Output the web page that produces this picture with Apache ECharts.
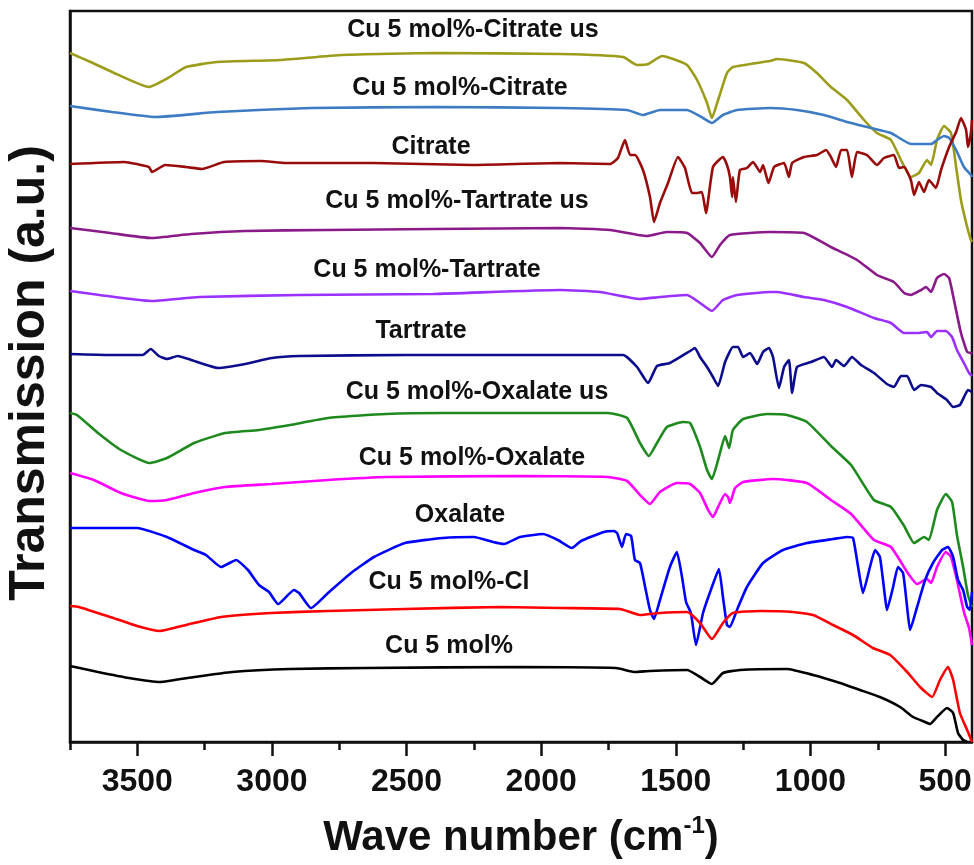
<!DOCTYPE html>
<html>
<head>
<meta charset="utf-8">
<script src="https://cdn.jsdelivr.net/npm/echarts@6/dist/echarts.min.js"></script>
<style>
html,body{margin:0;padding:0;background:#fff;}
#chart{width:974px;height:865px;}
</style>
</head>
<body>
<div id="chart"></div>
<script>
// Wavenumber (cm-1) and transmission (a.u., stacked offsets)
const citrateUs = [[3750,689],[3665,679],[3594,670],[3457,655],[3386,664],[3319,675],[3204,680],[2970,682],[2740,687],[2394,689],[1930,688],[1696,685],[1644,677],[1603,678],[1551,686],[1510,683],[1458,677],[1421,662],[1384,639],[1366,624],[1343,642],[1310,669],[1288,675],[1150,681],[1124,683],[1024,679],[976,669],[924,655],[864,642],[801,622],[753,609],[701,602],[664,582],[627,565],[597,569],[567,582],[552,577],[530,602],[504,616],[478,609],[459,575],[441,542],[418,515],[404,502],[400,500]];
const cuCitrate = [[3750,636],[3594,630],[3434,625],[3204,630],[2855,634],[2394,635],[1930,634],[1681,632],[1622,627],[1559,632],[1458,632],[1399,624],[1366,619],[1325,627],[1273,632],[1150,634],[1050,632],[950,627],[864,620],[775,614],[701,609],[627,598],[552,598],[530,602],[504,606],[485,604],[459,592],[430,575],[404,567],[400,565]];
const citrate = [[3750,578],[3549,580],[3457,575],[3445,570],[3397,577],[3319,575],[3260,573],[3178,580],[3041,581],[2948,579],[2625,579],[2257,577],[1934,579],[1744,578],[1715,584],[1689,602],[1670,587],[1651,587],[1622,572],[1596,545],[1581,520],[1559,539],[1529,559],[1492,585],[1466,574],[1440,549],[1418,549],[1403,550],[1388,529],[1362,575],[1325,585],[1310,577],[1299,565],[1291,545],[1288,565],[1277,540],[1262,572],[1236,574],[1213,580],[1187,570],[1176,577],[1156,559],[1135,575],[1098,579],[1080,565],[1068,579],[1024,585],[976,587],[942,592],[924,585],[905,575],[886,592],[864,592],[846,565],[827,590],[790,587],[753,577],[727,584],[690,587],[671,574],[652,575],[627,562],[615,547],[597,560],[578,550],[560,562],[534,554],[515,572],[485,595],[459,610],[441,624],[422,612],[415,595],[404,609],[400,622]];
const tartrateUs = [[3750,514],[3600,509],[3450,504],[3300,508],[3100,511],[2800,512],[2400,513],[1930,514],[1744,512],[1607,506],[1533,510],[1458,509],[1410,499],[1366,485],[1336,497],[1299,507],[1150,510],[1024,509],[924,495],[827,482],[753,467],[690,460],[652,449],[627,447],[589,452],[571,455],[552,450],[530,464],[504,468],[485,464],[467,442],[441,409],[418,390],[404,389],[400,388]];
const cuTartrate = [[3750,451],[3640,447],[3450,441],[3270,445],[2900,447],[2400,448],[1930,452],[1782,450],[1633,443],[1559,445],[1458,447],[1410,439],[1366,431],[1325,442],[1273,447],[1150,450],[1124,450],[1024,445],[950,442],[864,435],[764,424],[701,419],[652,409],[604,409],[567,410],[552,405],[530,411],[497,411],[474,405],[456,392],[430,379],[411,369],[404,367],[400,366]];
const tartrate = [[3750,388],[3600,387],[3480,387],[3450,393],[3420,386],[3390,383],[3350,386],[3300,382],[3200,374],[3100,378],[3000,384],[2900,386],[2500,387],[1930,387],[1696,387],[1644,375],[1603,359],[1570,376],[1522,379],[1447,391],[1429,394],[1410,385],[1384,375],[1362,365],[1343,356],[1317,380],[1288,395],[1269,395],[1250,385],[1224,389],[1198,378],[1176,390],[1154,394],[1139,385],[1117,354],[1098,375],[1080,382],[1068,349],[1050,375],[998,380],[950,385],[920,375],[905,382],[875,376],[846,385],[812,377],[764,369],[716,358],[690,355],[664,366],[641,366],[615,352],[589,357],[552,355],[530,349],[493,342],[470,335],[445,337],[426,347],[415,352],[400,350]];
const oxalateUs = [[3750,329],[3724,327],[3646,309],[3561,292],[3455,279],[3390,284],[3289,299],[3174,309],[3048,312],[2933,317],[2792,324],[2576,328],[2365,329],[1752,329],[1681,324],[1633,299],[1600,286],[1570,299],[1533,315],[1473,320],[1447,319],[1410,295],[1384,272],[1366,263],[1343,282],[1317,306],[1302,294],[1288,312],[1250,323],[1161,328],[1087,327],[1013,320],[924,296],[849,277],[764,242],[701,235],[652,216],[615,199],[578,205],[560,202],[530,232],[497,248],[474,240],[456,207],[433,175],[415,147],[400,135]];
const cuOxalate = [[3750,269],[3661,262],[3561,249],[3455,241],[3390,242],[3289,249],[3174,255],[3003,258],[2792,262],[2576,265],[2079,266],[1752,265],[1681,261],[1633,247],[1596,238],[1559,250],[1496,259],[1447,258],[1410,249],[1380,232],[1362,225],[1343,235],[1317,248],[1306,245],[1299,239],[1280,254],[1250,260],[1139,263],[1013,259],[924,242],[849,228],[764,202],[701,195],[641,170],[604,158],[567,163],[552,159],[530,175],[497,190],[478,185],[456,162],[430,130],[411,114],[400,97]];
const oxalate = [[3750,214],[3501,214],[3390,205],[3289,192],[3245,187],[3189,175],[3133,182],[3089,172],[3048,157],[3011,150],[2977,138],[2918,152],[2899,149],[2855,134],[2792,149],[2706,169],[2621,185],[2506,199],[2365,204],[2250,205],[2179,200],[2138,198],[2079,205],[1993,208],[1938,202],[1886,194],[1852,201],[1767,210],[1730,211],[1718,209],[1700,195],[1685,208],[1666,206],[1652,182],[1633,179],[1614,155],[1596,132],[1581,123],[1559,142],[1522,175],[1496,190],[1477,165],[1462,140],[1444,129],[1425,97],[1399,129],[1366,155],[1340,173],[1325,145],[1310,117],[1299,115],[1273,132],[1236,155],[1176,179],[1102,192],[1013,199],[916,203],[864,205],[842,204],[823,175],[805,149],[779,175],[760,192],[742,185],[723,145],[716,132],[693,155],[675,175],[656,169],[641,135],[630,112],[604,135],[574,162],[545,179],[511,192],[489,195],[470,185],[452,162],[433,152],[418,135],[408,132],[400,150]];
const cuCl = [[3750,136],[3717,135],[3601,125],[3501,116],[3416,111],[3319,117],[3189,125],[3003,129],[2792,131],[2506,133],[2149,135],[1930,134],[1707,133],[1633,127],[1559,129],[1458,130],[1410,119],[1366,103],[1325,119],[1288,129],[1187,131],[1065,130],[990,127],[916,117],[842,107],[768,94],[704,87],[641,70],[593,55],[548,45],[519,62],[489,75],[470,62],[445,29],[418,12],[400,0]];
const cu5 = [[3750,76],[3646,70],[3531,64],[3416,60],[3289,65],[3148,70],[2933,73],[2651,74],[2079,75],[1722,74],[1652,70],[1596,71],[1458,72],[1410,65],[1366,58],[1325,69],[1262,72],[1087,73],[990,67],[890,59],[816,52],[742,45],[667,35],[619,25],[574,20],[556,18],[530,25],[493,34],[470,29],[452,9],[433,2],[418,0]];

const seriesNames = ['Cu 5 mol%-Citrate us','Cu 5 mol%-Citrate','Citrate','Cu 5 mol%-Tartrate us','Cu 5 mol%-Tartrate','Tartrate','Cu 5 mol%-Oxalate us','Cu 5 mol%-Oxalate','Oxalate','Cu 5 mol%-Cl','Cu 5 mol%'];
const seriesData = [citrateUs, cuCitrate, citrate, tartrateUs, cuTartrate, tartrate, oxalateUs, cuOxalate, oxalate, cuCl, cu5];
const majorTicks = [3500,3000,2500,2000,1500,1000,500];
const minorTicks = [3750,3500,3250,3000,2750,2500,2250,2000,1750,1500,1250,1000,750,500];

const colors = ['#9c9c1a','#3d7cc2','#990c0c','#8a1a8a','#9b30ff','#0c0c8c','#1e8a1e','#ff00ff','#0000ff','#ff0000','#000000'];
// label centres (px)
const labelPos = [[473,30],[460,88],[431,147],[457,201],[427,270],[421,331],[477,392],[472,458],[460,515],[449,582],[449,646]];

const FONT = 'Arial, "Liberation Sans", Helvetica, sans-serif';
const chart = echarts.init(document.getElementById('chart'), null, {renderer:'canvas'});

const series = seriesData.map((d,i)=>({
  name: seriesNames[i], type:'line', data:d, xAxisIndex:0, yAxisIndex:0,
  showSymbol:false, symbol:'none', smooth:0.15,
  lineStyle:{color:colors[i], width:2.6}, itemStyle:{color:colors[i]},
  z: 3, animation:false
}));

const graphic = seriesNames.map((n,i)=>({
  type:'text', x:labelPos[i][0], y:labelPos[i][1], z:10,
  style:{text:n, fill:'#111', font:'bold 25px ' + FONT, align:'center', verticalAlign:'middle'}
}));
graphic.push({
  type:'text', x:30, y:373, rotation:Math.PI/2, z:10,
  style:{text:'Transmission (a.u.)', fill:'#111', font:'bold 50px ' + FONT, align:'center', verticalAlign:'middle'}
});
graphic.push({
  type:'text', x:521, y:838, z:10,
  style:{text:'{a|Wave number (cm}{s|-1}{a|)}', align:'center', verticalAlign:'middle',
    rich:{a:{fontSize:42, fontWeight:'bold', fontFamily:FONT, fill:'#111', color:'#111', lineHeight:48},
          s:{fontSize:24, fontWeight:'bold', fontFamily:FONT, fill:'#111', color:'#111', verticalAlign:'top', lineHeight:48}}}
});

const xCommon = {type:'value', min:400, max:3750, inverse:true, position:'bottom', splitLine:{show:false}};
chart.setOption({
  animation:false,
  backgroundColor:'#fff',
  grid:{left:70, right:2, top:11, bottom:123, containLabel:false, outerBoundsMode:'none', show:true, borderColor:'#111', borderWidth:2.5, backgroundColor:'transparent'},
  xAxis:[
    Object.assign({}, xCommon, {
      axisLine:{show:true, onZero:false, lineStyle:{color:'#111', width:2.5}},
      axisTick:{show:true, inside:false, length:14, customValues:majorTicks, lineStyle:{color:'#111', width:2.5}},
      axisLabel:{show:true, customValues:majorTicks, margin:24, fontSize:32, fontWeight:'bold', fontFamily:FONT, color:'#111', hideOverlap:false, formatter:function(v){return String(v);}}
    }),
    Object.assign({}, xCommon, {
      axisLine:{show:false, onZero:false},
      axisTick:{show:true, inside:false, length:8, customValues:minorTicks, lineStyle:{color:'#111', width:2.5}},
      axisLabel:{show:false}
    })
  ],
  yAxis:{type:'value', min:0, max:731, axisLine:{show:true, lineStyle:{color:'#111', width:2.5}}, axisTick:{show:false}, axisLabel:{show:false}, splitLine:{show:false}},
  series: series,
  graphic: graphic
});
</script>
</body>
</html>
